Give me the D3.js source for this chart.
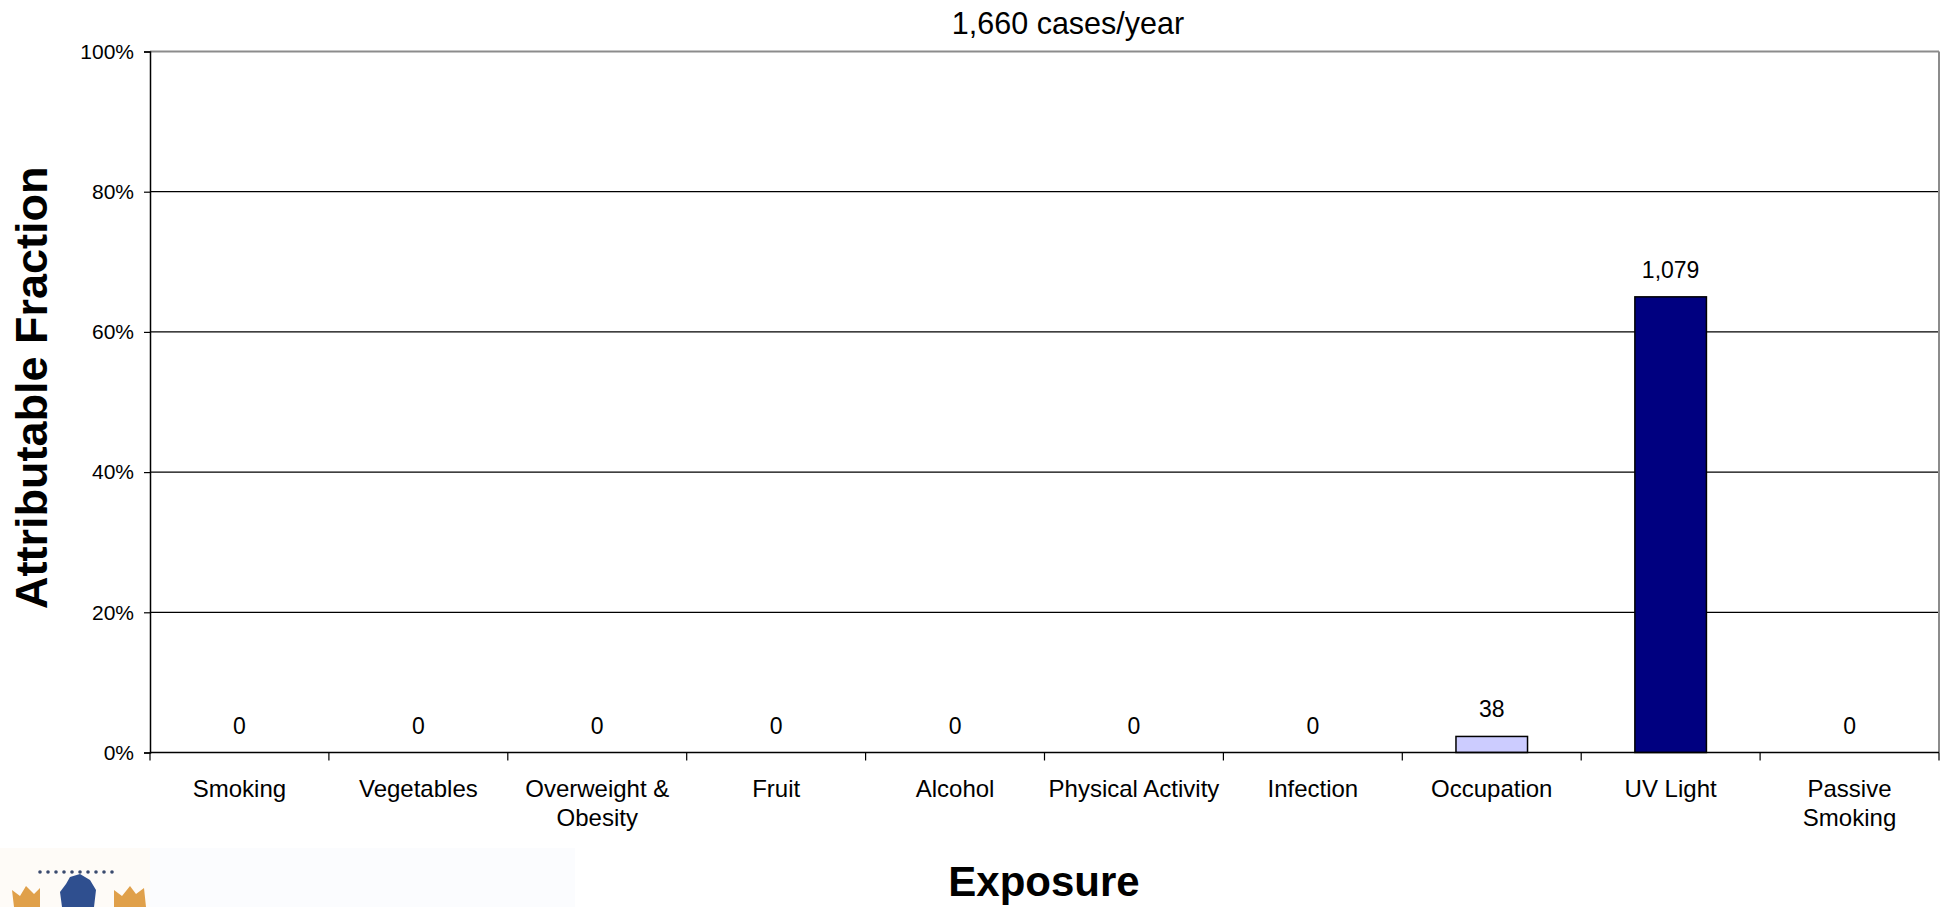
<!DOCTYPE html>
<html>
<head>
<meta charset="utf-8">
<script src="https://cdn.jsdelivr.net/npm/d3@7"></script>
<style>
  html, body { margin: 0; padding: 0; background: #ffffff; }
  svg { display: block; }
  text { font-family: "Liberation Sans", Arial, sans-serif; fill: #000; }
</style>
</head>
<body>
<script>
// Attributable cases per exposure (cases/year)
const categories = ["Smoking", "Vegetables", "Overweight &\nObesity", "Fruit", "Alcohol",
                    "Physical Activity", "Infection", "Occupation", "UV Light", "Passive\nSmoking"];
const cases = [0, 0, 0, 0, 0, 0, 0, 38, 1079, 0];
const totalCases = 1660;
const barColors = ["#9999ff", "#993366", "#ffffcc", "#ccffff", "#660066",
                   "#ff8080", "#0066cc", "#ccccff", "#000080", "#ff00ff"];
const yTicks = [0, 0.2, 0.4, 0.6, 0.8, 1.0];
const titleText = "1,660 cases/year";
const yTitle = "Attributable Fraction";
const xTitle = "Exposure";

const W = 1946, H = 907;
const plot = { left: 150, right: 1939, top: 51.5, bottom: 752.5 };

const svg = d3.select("body").append("svg").attr("width", W).attr("height", H);

const x = d3.scaleBand().domain(categories).range([plot.left, plot.right]).paddingInner(0.6).paddingOuter(0.3);
const xEdge = d3.scaleLinear().domain([0, categories.length]).range([plot.left, plot.right]);
const y = d3.scaleLinear().domain([0, 1]).range([plot.bottom, plot.top]);

// Horizontal gridlines
svg.append("g").selectAll("line").data(yTicks.filter(t => t > 0 && t < 1)).join("line")
  .attr("x1", plot.left).attr("x2", plot.right)
  .attr("y1", d => y(d)).attr("y2", d => y(d))
  .attr("stroke", "#000").attr("stroke-width", 1.2);

// Plot frame: top and right in grey
svg.append("line").attr("x1", plot.left).attr("x2", plot.right)
  .attr("y1", y(1)).attr("y2", y(1)).attr("stroke", "#8c8c8c").attr("stroke-width", 2);
svg.append("line").attr("x1", plot.right).attr("x2", plot.right)
  .attr("y1", y(1)).attr("y2", plot.bottom).attr("stroke", "#8c8c8c").attr("stroke-width", 2);

// Bars
svg.append("g").selectAll("rect").data(categories).join("rect")
  .attr("x", d => x(d))
  .attr("width", x.bandwidth())
  .attr("y", (d, i) => y(cases[i] / totalCases))
  .attr("height", (d, i) => plot.bottom - y(cases[i] / totalCases))
  .attr("fill", (d, i) => barColors[i])
  .attr("stroke", "#000").attr("stroke-width", 1.5)
  .style("display", (d, i) => cases[i] > 0 ? null : "none");

// Value labels
svg.append("g").selectAll("text").data(categories).join("text")
  .attr("x", d => x(d) + x.bandwidth() / 2)
  .attr("y", (d, i) => y(cases[i] / totalCases) - 19)
  .attr("text-anchor", "middle")
  .style("font-size", "23px")
  .text((d, i) => d3.format(",")(cases[i]));

// Y axis
const yAxis = d3.axisLeft(y).tickValues(yTicks).tickFormat(d3.format(".0%")).tickSize(6).tickPadding(10);
const gy = svg.append("g").attr("transform", `translate(${plot.left},0)`).call(yAxis);
gy.select(".domain").attr("stroke", "#000").attr("stroke-width", 1.5);
gy.selectAll(".tick line").attr("stroke", "#000").attr("stroke-width", 1.2);
gy.selectAll(".tick text").style("font-size", "21px").style("font-family", "Liberation Sans, Arial, sans-serif");

// X axis: baseline with tick marks at category boundaries
const gx = svg.append("g");
gx.append("line").attr("x1", plot.left).attr("x2", plot.right)
  .attr("y1", plot.bottom).attr("y2", plot.bottom).attr("stroke", "#000").attr("stroke-width", 1.5);
gx.selectAll("line.tk").data(d3.range(categories.length + 1)).join("line").attr("class", "tk")
  .attr("x1", d => xEdge(d)).attr("x2", d => xEdge(d))
  .attr("y1", plot.bottom).attr("y2", plot.bottom + 8)
  .attr("stroke", "#000").attr("stroke-width", 1.2);

// Category labels
const catLabels = gx.selectAll("text").data(categories).join("text")
  .attr("x", d => x(d) + x.bandwidth() / 2)
  .attr("y", plot.bottom + 44)
  .attr("text-anchor", "middle")
  .style("font-size", "24px");
catLabels.each(function(d) {
  const lines = d.split("\n");
  d3.select(this).selectAll("tspan").data(lines).join("tspan")
    .attr("x", x(d) + x.bandwidth() / 2)
    .attr("dy", (l, i) => i === 0 ? 0 : 29)
    .text(l => l);
});

// Titles
svg.append("text").attr("x", 1068).attr("y", 34).attr("text-anchor", "middle")
  .style("font-size", "30.5px").text(titleText);

svg.append("text").attr("transform", "translate(47, 609) rotate(-90)")
  .attr("text-anchor", "start").style("font-size", "45px").style("font-weight", "bold").text(yTitle);

svg.append("text").attr("x", 1044).attr("y", 896).attr("text-anchor", "middle")
  .style("font-size", "42px").style("font-weight", "bold").text(xTitle);

// Emblem in the lower left corner
const logo = svg.append("g");
logo.append("rect").attr("x", 0).attr("y", 848).attr("width", 575).attr("height", 59)
  .attr("fill", "#fbfcfe");
logo.append("rect").attr("x", 0).attr("y", 848).attr("width", 150).attr("height", 59)
  .attr("fill", "#fefbf7");
const dots = d3.range(40, 120, 8);
logo.selectAll("circle.dot").data(dots).join("circle").attr("class", "dot")
  .attr("cx", d => d).attr("cy", 872).attr("r", 1.8).attr("fill", "#3a4a6e");
logo.append("path")
  .attr("d", "M62,907 L60,892 L66,884 L70,877 L80,874 L90,880 L96,890 L94,907 Z")
  .attr("fill", "#2f4f8f");
logo.append("path")
  .attr("d", "M14,907 L12,890 L20,896 L26,886 L34,894 L40,888 L40,907 Z")
  .attr("fill", "#e0a04a");
logo.append("path")
  .attr("d", "M114,907 L114,890 L122,896 L130,886 L136,894 L144,888 L146,907 Z")
  .attr("fill", "#e0a04a");
</script>
</body>
</html>
